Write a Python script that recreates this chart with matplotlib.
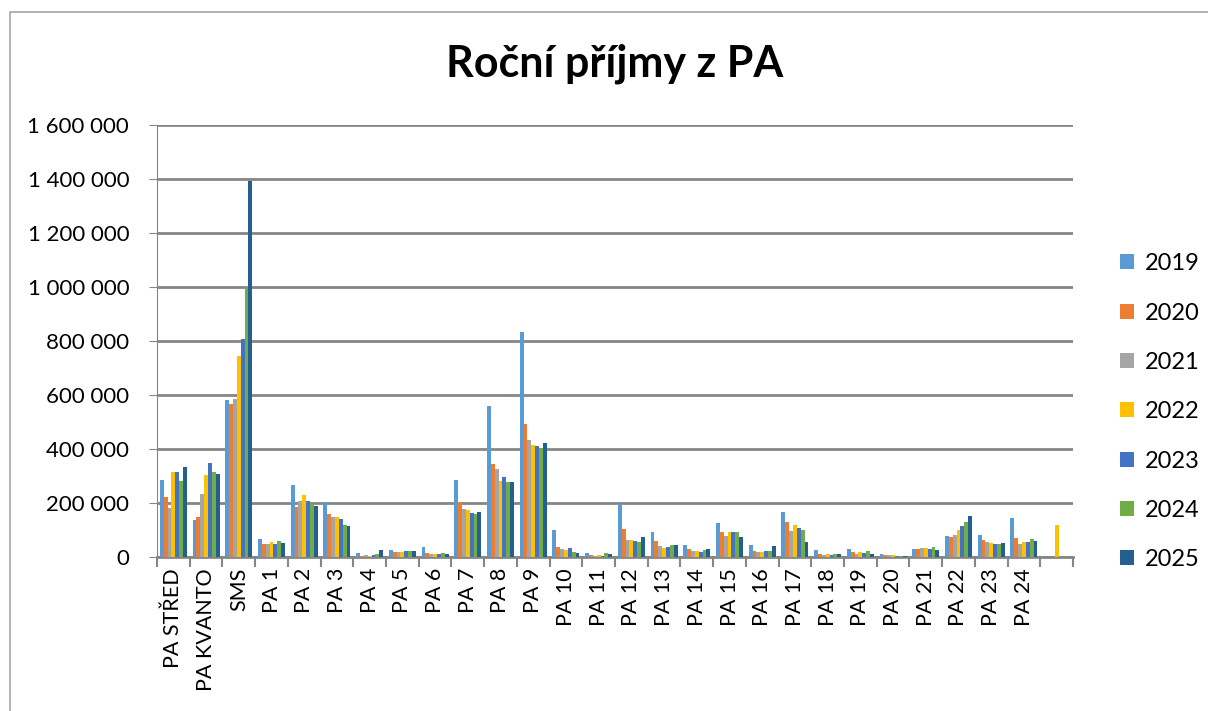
import matplotlib.pyplot as plt
import numpy as np
from matplotlib.patches import Rectangle
from matplotlib.ticker import FuncFormatter

categories = ["PA STŘED", "PA KVANTO", "SMS", "PA 1", "PA 2", "PA 3", "PA 4", "PA 5",
              "PA 6", "PA 7", "PA 8", "PA 9", "PA 10", "PA 11", "PA 12", "PA 13",
              "PA 14", "PA 15", "PA 16", "PA 17", "PA 18", "PA 19", "PA 20", "PA 21",
              "PA 22", "PA 23", "PA 24", ""]

years = ["2019", "2020", "2021", "2022", "2023", "2024", "2025"]

v2019 = [286000, 136000, 582000, 65000, 268000, 204000, 14000, 27000, 36000, 286000,
         558000, 833000, 99000, 14000, 195000, 94000, 43000, 125000, 46000, 167000,
         25000, 28000, 12000, 30000, 78000, 80000, 144000, 0]
v2020 = [222000, 147000, 566000, 49000, 186000, 159000, 5000, 17000, 15000, 204000,
         345000, 494000, 38000, 7000, 102000, 59000, 28000, 94000, 21000, 130000,
         12000, 19000, 7000, 30000, 75000, 62000, 69000, 0]
v2021 = [180000, 232000, 587000, 49000, 207000, 149000, 7000, 20000, 12000, 178000,
         325000, 432000, 28000, 2000, 64000, 41000, 21000, 78000, 19000, 95000,
         7000, 12000, 6000, 33000, 80000, 54000, 49000, 0]
v2022 = [313000, 302000, 746000, 56000, 231000, 149000, 5000, 17000, 10000, 173000,
         283000, 415000, 26000, 7000, 62000, 35000, 21000, 91000, 19000, 117000,
         11000, 19000, 7000, 33000, 101000, 51000, 56000, 119000]
v2023 = [315000, 350000, 806000, 49000, 207000, 141000, 7000, 22000, 12000, 163000,
         296000, 412000, 33000, 5000, 58000, 38000, 20000, 91000, 21000, 107000,
         9000, 15000, 5000, 31000, 114000, 48000, 56000, 0]
v2024 = [280000, 313000, 1000000, 60000, 198000, 119000, 11000, 23000, 15000, 158000,
         277000, 403000, 19000, 15000, 54000, 43000, 25000, 93000, 22000, 100000,
         12000, 22000, 4000, 36000, 130000, 47000, 67000, 0]
v2025 = [334000, 307000, 1394000, 52000, 190000, 115000, 26000, 22000, 10000, 168000,
         277000, 421000, 16000, 11000, 73000, 44000, 28000, 74000, 41000, 54000,
         12000, 11000, 4000, 26000, 152000, 52000, 59000, 0]

series = [v2019, v2020, v2021, v2022, v2023, v2024, v2025]
colors = ["#5B9BD5", "#ED7D31", "#A5A5A5", "#FFC000", "#4472C4", "#70AD47", "#255E91"]

plt.rcParams['font.family'] = ['Lato', 'DejaVu Sans']

fig = plt.figure(figsize=(12.08, 7.11), dpi=100)
ax = fig.add_axes([157 / 1208, 1 - 557 / 711, (1073 - 157) / 1208, (557 - 125) / 711])

x = np.arange(len(categories))
w = 0.118
for i, (vals, col, yr) in enumerate(zip(series, colors, years)):
    ax.bar(x + (i - 3) * w, vals, width=w, color=col, label=yr, zorder=3)

ax.set_xlim(-0.5, len(categories) - 0.5)
ax.set_ylim(0, 1600000)
ax.set_yticks(np.arange(0, 1600001, 200000))
ax.yaxis.set_major_formatter(FuncFormatter(lambda v, p: f"{int(v):,}".replace(",", " ")))
ax.grid(axis='y', color='#868686', linewidth=2, zorder=0)

ax.set_xticks(x)
ax.set_xticklabels(categories, rotation=90, fontsize=15.5)
ax.set_xticks(np.arange(-0.5, len(categories)), minor=True)
ax.tick_params(axis='x', which='major', length=0, pad=8)
ax.tick_params(axis='x', which='minor', length=7, width=1.5, color='#868686')
ax.tick_params(axis='y', labelsize=16, length=6, color='#868686', pad=14)

for s in ['top', 'right']:
    ax.spines[s].set_visible(False)
ax.spines['left'].set_color('#868686')
ax.spines['bottom'].set_color('#868686')
ax.spines['bottom'].set_linewidth(2)

fig.text(615 / 1208, 1 - 64 / 711, "Roční příjmy z PA", ha='center', va='center',
         fontsize=31, fontweight='bold')

fig.legend(loc='upper left', bbox_to_anchor=(1099 / 1208, 1 - 232 / 711), frameon=False,
           fontsize=17, handlelength=0.6, handleheight=0.6, handletextpad=0.45,
           labelspacing=1.2)

fig.add_artist(Rectangle((10 / 1208, -0.1), 1.2, 1.1 - 12 / 711, transform=fig.transFigure,
                         fill=False, edgecolor='#a6a6a6', linewidth=1.2))

fig.savefig("out.png", dpi=100)
